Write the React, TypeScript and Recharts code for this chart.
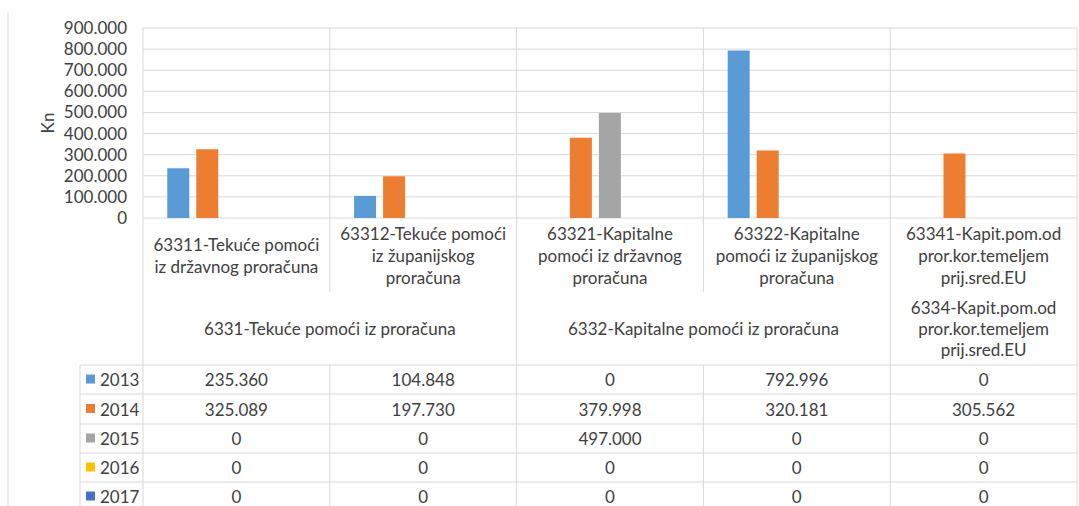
import React from "react";
import { BarChart, Bar, XAxis, YAxis, CartesianGrid } from "recharts";

// category labels (line breaks as in the original wrapped labels)
const categories = [
  "63311-Tekuće pomoći\niz državnog proračuna",
  "63312-Tekuće pomoći\niz županijskog\nproračuna",
  "63321-Kapitalne\npomoći iz državnog\nproračuna",
  "63322-Kapitalne\npomoći iz županijskog\nproračuna",
  "63341-Kapit.pom.od\npror.kor.temeljem\nprij.sred.EU",
];

const groupLabels = [
  "6331-Tekuće pomoći iz proračuna",
  "6332-Kapitalne pomoći iz proračuna",
  "6334-Kapit.pom.od\npror.kor.temeljem\nprij.sred.EU",
];
const groupSpans = [2, 2, 1];

const years = ["2013", "2014", "2015", "2016", "2017"];
const colors = ["#5B9BD5", "#ED7D31", "#A5A5A5", "#FFC000", "#4472C4"];

const v2013 = [235360, 104848, 0, 792996, 0];
const v2014 = [325089, 197730, 379998, 320181, 305562];
const v2015 = [0, 0, 497000, 0, 0];
const v2016 = [0, 0, 0, 0, 0];
const v2017 = [0, 0, 0, 0, 0];
const series = [v2013, v2014, v2015, v2016, v2017];

const yTicks = [0, 100000, 200000, 300000, 400000, 500000, 600000, 700000, 800000, 900000];

const W = 1079;
const H = 506;
const PLOT_LEFT = 143;
const PLOT_RIGHT = 1077;
const PLOT_TOP = 28;
const PLOT_BOTTOM = 218;
const GRID = "#d9d9d9";
const TEXT = "#404040";
const FONT = "Lato, 'Open Sans', sans-serif";
const FS = 17;

const rowLines = [365, 394, 424, 453, 482, 511];

function fmt(v: number) {
  return String(v).replace(/\B(?=(\d{3})+(?!\d))/g, ".");
}

const data = categories.map((name, i) => {
  const row: Record<string, string | number> = { name };
  years.forEach((y, k) => (row[y] = series[k][i]));
  return row;
});

function CatTick(props: any) {
  const { x, y, payload } = props;
  const lines = String(payload.value).split("\n");
  const cy = y + 37 - (lines.length - 1) * 11;
  return (
    <g>
      {lines.map((l, i) => (
        <text
          key={i}
          x={x}
          y={cy + i * 22}
          textAnchor="middle"
          dominantBaseline="central"
          fontSize={FS}
          fontFamily={FONT}
          fill={TEXT}
        >
          {l}
        </text>
      ))}
    </g>
  );
}

function Overlay() {
  const n = categories.length;
  const cw = (PLOT_RIGHT - PLOT_LEFT) / n;
  const colX = (i: number) => PLOT_LEFT + i * cw;
  const groupStarts: number[] = [];
  groupSpans.reduce((acc, s) => {
    groupStarts.push(acc);
    return acc + s;
  }, 0);
  const groupEdges = new Set(groupStarts.concat([n]));

  return (
    <svg
      width={W}
      height={H}
      style={{ position: "absolute", left: 0, top: 0, pointerEvents: "none" }}
      fontFamily={FONT}
    >
      {/* frame line on the left */}
      <line x1={8} y1={12} x2={8} y2={H} stroke={GRID} />
      {/* vertical separators */}
      {Array.from({ length: n + 1 }, (_, i) => {
        const x = colX(i);
        if (i === 0 || groupEdges.has(i)) {
          return <line key={i} x1={x} y1={PLOT_BOTTOM} x2={x} y2={H} stroke={GRID} />;
        }
        return (
          <g key={i}>
            <line x1={x} y1={PLOT_BOTTOM} x2={x} y2={292} stroke={GRID} />
            <line x1={x} y1={rowLines[0]} x2={x} y2={H} stroke={GRID} />
          </g>
        );
      })}
      <line x1={80} y1={rowLines[0]} x2={80} y2={H} stroke={GRID} />
      {rowLines.map((y, i) => (
        <line key={i} x1={80} y1={y} x2={PLOT_RIGHT} y2={y} stroke={GRID} />
      ))}
      {/* group labels */}
      {groupLabels.map((g, gi) => {
        const cx = (colX(groupStarts[gi]) + colX(groupStarts[gi] + groupSpans[gi])) / 2;
        const lines = g.split("\n");
        const cy = 328.5 - (lines.length - 1) * 10.5;
        return lines.map((l, li) => (
          <text
            key={gi + "-" + li}
            x={cx}
            y={cy + li * 21}
            textAnchor="middle"
            dominantBaseline="central"
            fontSize={FS}
            fill={TEXT}
          >
            {l}
          </text>
        ));
      })}
      {/* data table */}
      {years.map((yr, r) => {
        const cy = (rowLines[r] + rowLines[r + 1]) / 2;
        return (
          <g key={yr}>
            <rect x={86} y={cy - 5} width={9} height={9} fill={colors[r]} />
            <text x={100} y={cy} dominantBaseline="central" fontSize={FS} fill={TEXT}>
              {yr}
            </text>
            {series[r].map((v, c) => (
              <text
                key={c}
                x={colX(c) + cw / 2}
                y={cy}
                textAnchor="middle"
                dominantBaseline="central"
                fontSize={FS}
                fill={TEXT}
              >
                {fmt(v)}
              </text>
            ))}
          </g>
        );
      })}
      {/* axis title */}
      <text
        x={47}
        y={(PLOT_TOP + PLOT_BOTTOM) / 2}
        transform={`rotate(-90 47 ${(PLOT_TOP + PLOT_BOTTOM) / 2})`}
        textAnchor="middle"
        dominantBaseline="central"
        fontSize={FS}
        fill={TEXT}
      >
        Kn
      </text>
    </svg>
  );
}

export default function App() {
  return (
    <div style={{ position: "relative", width: W, height: H, background: "#fff", fontFamily: FONT }}>
      <style>{"body{margin:0}"}</style>
      <BarChart
        width={W}
        height={H}
        data={data}
        margin={{ top: PLOT_TOP, right: W - PLOT_RIGHT, bottom: 0, left: 0 }}
        barCategoryGap="13%"
        barGap={7}
      >
        <CartesianGrid
          stroke={GRID}
          verticalCoordinatesGenerator={({ offset }: any) =>
            Array.from({ length: categories.length + 1 }, (_, i) => offset.left + (i * offset.width) / categories.length)
          }
        />
        <XAxis
          dataKey="name"
          height={H - PLOT_BOTTOM}
          axisLine={false}
          tickLine={false}
          tickSize={0}
          tickMargin={0}
          interval={0}
          tick={<CatTick />}
        />
        <YAxis
          width={PLOT_LEFT}
          domain={[0, 900000]}
          ticks={yTicks}
          interval={0}
          axisLine={false}
          tickLine={false}
          tickMargin={10}
          tickFormatter={fmt}
          tick={{ fontSize: FS, fill: TEXT, fontFamily: FONT }}
        />
        {years.map((y, k) => (
          <Bar key={y} dataKey={y} fill={colors[k]} isAnimationActive={false} />
        ))}
      </BarChart>
      <Overlay />
    </div>
  );
}
